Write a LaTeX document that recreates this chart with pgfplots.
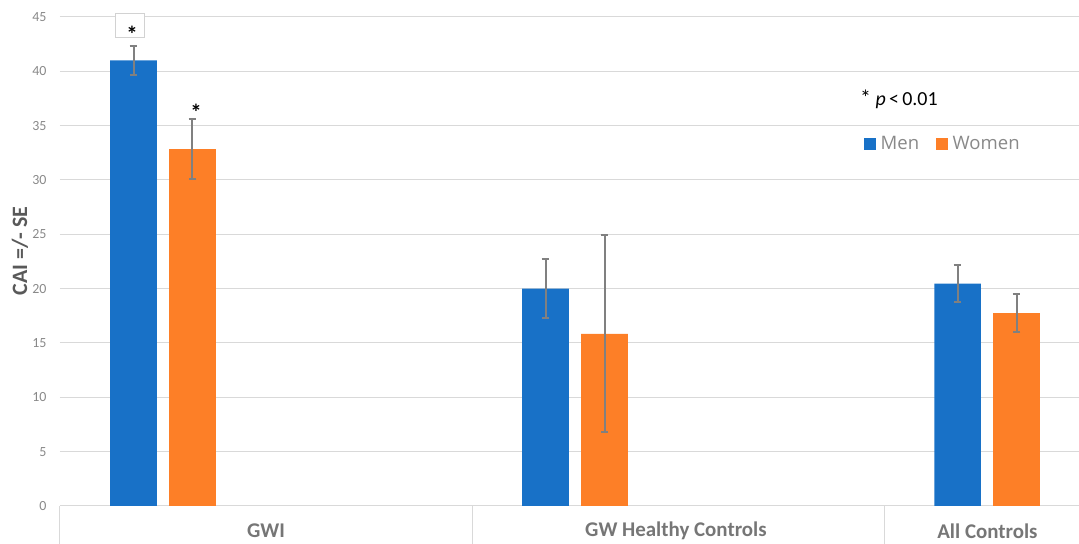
\documentclass[border=0pt]{standalone}
\usepackage{pgfplots}
\pgfplotsset{compat=1.18}
\usepackage{fontspec}
\setmainfont{Carlito}
\newfontfamily\opensans{Open Sans}
\definecolor{menblue}{RGB}{24,113,199}
\definecolor{womenorange}{RGB}{253,127,39}
\definecolor{gridc}{RGB}{217,217,217}
\definecolor{errc}{RGB}{128,128,128}
\definecolor{tickc}{RGB}{137,137,137}
\definecolor{catc}{RGB}{118,118,118}
\definecolor{labc}{RGB}{89,89,89}
\definecolor{boxc}{RGB}{210,210,210}
\pgfplotsset{mylegend/.style={legend image code/.code={\fill[##1] (0bp,-5.75bp) rectangle (11.5bp,5.75bp);}}}
\begin{document}
\begin{tikzpicture}
\begin{axis}[
  scale only axis, width=1019bp, height=489bp,
  xmin=-0.5, xmax=1.9733, ymin=0, ymax=45,
  ytick={0,5,...,45},
  xtick={0,0.995,1.751},
  xticklabels={GWI, GW Healthy Controls, All Controls},
  major tick length=0pt,
  axis line style={draw=none},
  ymajorgrids, xmajorgrids=false,
  grid style={gridc, line width=1bp},
  /pgf/number format/assume math mode=true,
  yticklabel style={font=\fontsize{14}{16}\selectfont, text=tickc, xshift=-10bp},
  xticklabel style={font=\fontsize{21}{24}\selectfont\bfseries, text=catc, anchor=center, yshift=-25bp},
  ylabel={CAI =/- SE},
  every axis y label/.style={at={(axis description cs:-0.0393,0.521)}, rotate=90, anchor=center, font=\fontsize{22}{24}\selectfont\bfseries, text=labc},
  ybar, bar width=0.1129, bar shift=0pt,
  clip=false,
  legend style={draw=none, fill=none, at={(axis description cs:0.789,0.740)}, anchor=west, legend columns=2, font=\opensans\fontsize{18.6}{21}\selectfont, text=tickc, nodes={inner sep=0pt}, /tikz/every odd column/.append style={column sep=5bp}, /tikz/every even column/.append style={column sep=17bp}, inner sep=0pt},
]
\addplot[fill=menblue, draw=none, mylegend,
  error bars/.cd, y dir=both, y explicit,
  error bar style={draw=errc, line width=2bp},
  error mark options={draw=errc, line width=2bp, mark size=3.8bp, rotate=90}] coordinates {
  (-0.3216,41.0) +- (0,1.37)
  (0.6784,20.0) +- (0,2.73)
  (1.6784,20.46) +- (0,1.70)
};
\addlegendentry{Men}
\addplot[fill=womenorange, draw=none, mylegend,
  error bars/.cd, y dir=both, y explicit,
  error bar style={draw=errc, line width=2bp},
  error mark options={draw=errc, line width=2bp, mark size=3.8bp, rotate=90}] coordinates {
  (-0.1784,32.85) +- (0,2.75)
  (0.8216,15.85) +- (0,9.07)
  (1.8216,17.75) +- (0,1.74)
};
\addlegendentry{Women}
\draw[gridc, line width=1bp] (axis cs:-0.5,0) -- ++(0bp,-38bp);
\draw[gridc, line width=1bp] (axis cs:0.5,0) -- ++(0bp,-38bp);
\draw[gridc, line width=1bp] (axis cs:1.5,0) -- ++(0bp,-38bp);
\node[draw=boxc, line width=1bp, fill=white, minimum width=29bp, minimum height=24.5bp, inner sep=0pt] at (axis cs:-0.3289,44.23) {};
\node[font=\fontsize{23}{25}\selectfont\bfseries, inner sep=0pt, yshift=-5bp] at (axis cs:-0.3252,43.89) {*};
\node[font=\fontsize{23}{25}\selectfont\bfseries, inner sep=0pt, yshift=-5bp] at (axis cs:-0.1699,36.72) {*};
\node[anchor=base west, font=\fontsize{20}{22}\selectfont, inner sep=0pt] at (axis description cs:0.785,0.820) {{\fontsize{22}{22}\selectfont*} \textit{p}\,<\,0.01};
\coordinate (ll) at (rel axis cs:0,0);
\coordinate (ur) at (rel axis cs:1,1);
\end{axis}
\pgfresetboundingbox
\path[use as bounding box] ([xshift=-60bp,yshift=-38bp]ll) rectangle ([yshift=17bp]ur);
\end{tikzpicture}
\end{document}
